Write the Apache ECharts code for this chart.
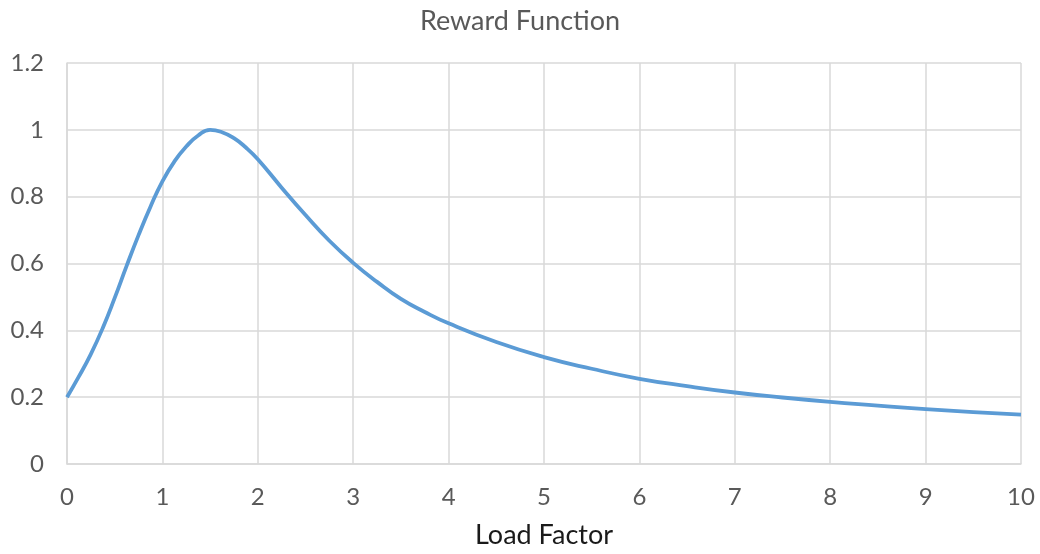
<!DOCTYPE html>
<html>
<head>
<meta charset="utf-8">
<script src="https://cdn.jsdelivr.net/npm/echarts@6/dist/echarts.min.js"></script>
<style>html,body{margin:0;padding:0;background:#fff}#c{width:1040px;height:554px}</style>
</head>
<body>
<div id="c"></div>
<script>
const loadFactor = [0, 0.125, 0.25, 0.375, 0.5, 0.625, 0.75, 0.875, 1, 1.125, 1.25, 1.375, 1.5, 1.625, 1.75, 1.875, 2, 2.25, 2.5, 2.75, 3, 3.25, 3.5, 3.75, 4, 4.5, 5, 5.5, 6, 6.5, 7, 7.5, 8, 8.5, 9, 9.5, 10];
const reward =     [0.2, 0.262, 0.329, 0.407, 0.497, 0.593, 0.685, 0.77, 0.846, 0.905, 0.95, 0.983, 1.0, 0.993, 0.975, 0.947, 0.912, 0.827, 0.745, 0.668, 0.602, 0.545, 0.494, 0.455, 0.421, 0.365, 0.32, 0.285, 0.255, 0.233, 0.214, 0.199, 0.186, 0.175, 0.164, 0.155, 0.148];
const chartTitle = 'Reward Function';
const xName = 'Load Factor';

const font = 'Lato, "Open Sans", sans-serif';
const chart = echarts.init(document.getElementById('c'));
chart.setOption({
  animation: false,
  title: {text: chartTitle, left: 'center', top: 3, textStyle: {fontFamily: font, fontSize: 27, fontWeight: 'normal', color: '#595959'}},
  grid: {left: 67, right: 19, top: 63, bottom: 89},
  xAxis: {
    type: 'value', min: 0, max: 10, interval: 1,
    name: xName, nameLocation: 'middle', nameGap: 58,
    nameTextStyle: {fontFamily: font, fontSize: 27, color: '#1a1a1a'},
    axisLine: {lineStyle: {color: '#d9d9d9', width: 1.5}},
    axisTick: {show: false},
    axisLabel: {fontFamily: font, fontSize: 24, color: '#595959', margin: 21},
    splitLine: {show: true, lineStyle: {color: '#d9d9d9', width: 1.5}}
  },
  yAxis: {
    type: 'value', min: 0, max: 1.2, interval: 0.2,
    axisLine: {show: true, lineStyle: {color: '#d9d9d9', width: 1.5}},
    axisTick: {show: false},
    axisLabel: {fontFamily: font, fontSize: 24, color: '#595959', margin: 23,
      formatter: v => String(Math.round(v * 10) / 10)},
    splitLine: {show: true, lineStyle: {color: '#d9d9d9', width: 1.5}}
  },
  series: [{
    type: 'line',
    data: loadFactor.map((x, i) => [x, reward[i]]),
    smooth: 0.5,
    symbol: 'none',
    lineStyle: {color: '#5b9bd5', width: 3.8}
  }]
});
</script>
</body>
</html>
